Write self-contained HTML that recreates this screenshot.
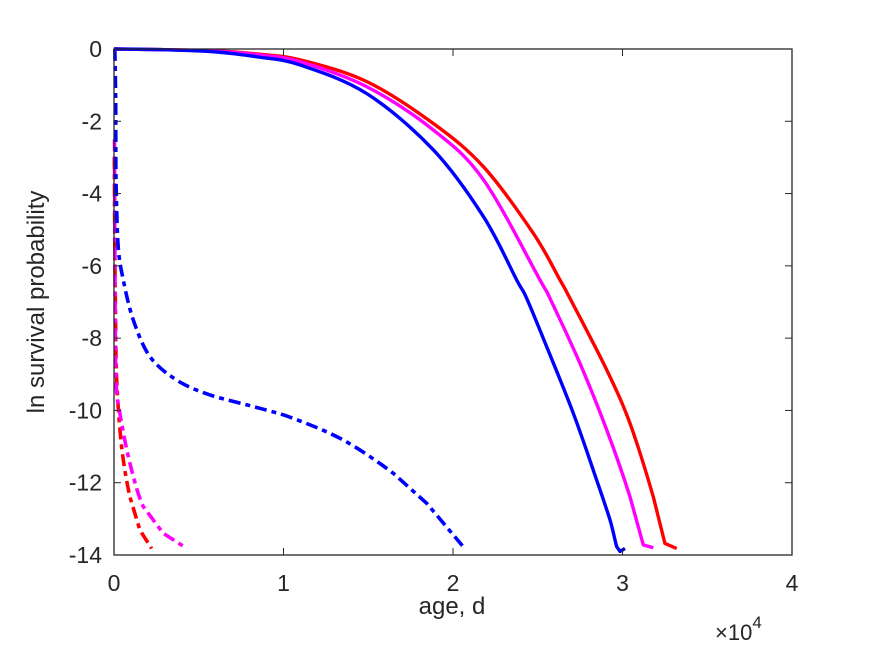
<!DOCTYPE html>
<html><head><meta charset="utf-8"><style>
body{margin:0;background:#fff;}
svg text{font-family:"Liberation Sans",Arial,sans-serif;fill:#262626;}
</style></head><body>
<svg id="chart" width="875" height="656" viewBox="0 0 875 656" xmlns="http://www.w3.org/2000/svg" style="position:absolute;left:0;top:0">
<rect x="0" y="0" width="875" height="656" fill="#fff"/>
<g id="plot"></g>
<g id="axes"></g>
<text x="452" y="614" font-size="24" text-anchor="middle">age, d</text>
<text x="44" y="302" font-size="24" text-anchor="middle" transform="rotate(-90 44 302)">ln survival probability</text>
<text x="715" y="640" font-size="22">×10<tspan dy="-12" font-size="17">4</tspan></text>
</svg>
<script>
const xTicks=[0,1,2,3,4];
const yTicks=[0,-2,-4,-6,-8,-10,-12,-14];
// x in units of 1e4 days, y = ln survival probability
const blueSolidX=[0,0.3,0.6,0.85,1.097,1.49,1.884,2.18,2.376,2.435,2.553,2.71,2.848,2.926,2.966,2.985,3.015];
const blueSolidY=[0,-0.02,-0.08,-0.22,-0.44,-1.23,-2.79,-4.64,-6.39,-6.9,-8.24,-10.08,-11.93,-13.03,-13.77,-13.9,-13.82];
const magSolidX=[0,0.3,0.6,0.85,1.097,1.49,1.884,2.18,2.513,2.572,2.749,2.907,3.044,3.123,3.182];
const magSolidY=[0,-0.02,-0.06,-0.16,-0.35,-1.04,-2.24,-3.62,-6.39,-6.9,-8.7,-10.54,-12.39,-13.72,-13.8];
const redSolidX=[0,0.3,0.6,0.85,1.097,1.49,1.884,2.18,2.474,2.631,2.69,2.907,3.044,3.182,3.25,3.32];
const redSolidY=[0,-0.02,-0.05,-0.14,-0.3,-0.9,-2.06,-3.26,-5.1,-6.39,-6.9,-8.88,-10.36,-12.39,-13.68,-13.82];
const blueDashX=[0.005,0.01,0.012,0.025,0.055,0.114,0.212,0.37,0.566,0.861,1.058,1.353,1.648,1.845,2.06];
const blueDashY=[0,-1.5,-3.62,-5.47,-6.39,-7.5,-8.51,-9.16,-9.57,-9.94,-10.22,-10.82,-11.74,-12.57,-13.77];
const magDashX=[0.003,0.004,0.006,0.012,0.035,0.094,0.173,0.29,0.43];
const magDashY=[-2.5,-4,-6.4,-9.16,-10.08,-11.46,-12.66,-13.4,-13.82];
const redDashX=[0.002,0.004,0.008,0.016,0.045,0.094,0.153,0.222];
const redDashY=[-3,-5,-7,-9.16,-11.0,-12.39,-13.31,-13.82];

const L=114,R=792,T=49,B=555,xMin=0,xMax=4,yMin=-14,yMax=0;
const sx=v=>L+(v-xMin)/(xMax-xMin)*(R-L);
const sy=v=>T+(yMax-v)/(yMax-yMin)*(B-T);
const NS="http://www.w3.org/2000/svg";
const plot=document.getElementById('plot'),axes=document.getElementById('axes');
function mk(tag,attrs,parent){const e=document.createElementNS(NS,tag);for(const k in attrs)e.setAttribute(k,attrs[k]);parent.appendChild(e);return e;}
function smoothPath(xs,ys,smooth){
  const P=xs.map((x,i)=>[sx(x),sy(ys[i])]);
  let d='M'+P[0][0].toFixed(1)+','+P[0][1].toFixed(1);
  for(let i=0;i<P.length-1;i++){
    const p0=P[Math.max(0,i-1)],p1=P[i],p2=P[i+1],p3=P[Math.min(P.length-1,i+2)];
    if(!smooth||i>=P.length-3){d+=' L'+p2[0].toFixed(1)+','+p2[1].toFixed(1);continue;}
    const c1=[p1[0]+(p2[0]-p0[0])/6,p1[1]+(p2[1]-p0[1])/6];
    const c2=[p2[0]-(p3[0]-p1[0])/6,p2[1]-(p3[1]-p1[1])/6];
    d+=' C'+c1[0].toFixed(1)+','+c1[1].toFixed(1)+' '+c2[0].toFixed(1)+','+c2[1].toFixed(1)+' '+p2[0].toFixed(1)+','+p2[1].toFixed(1);
  }
  return d;
}
function line(xs,ys,color,dash,name){
  const p=mk('path',{d:smoothPath(xs,ys,true),fill:'none',stroke:color,'stroke-width':dash?3.6:3.4,'stroke-linejoin':'round'},plot);
  if(dash)p.setAttribute('stroke-dasharray','12 5 5 5');
  
  
}
line(redDashX,redDashY,'#ff0000',true,'red-dashdot-line');
line(magDashX,magDashY,'#ff00ff',true,'magenta-dashdot-line');
line(blueDashX,blueDashY,'#0000ff',true,'blue-dashdot-line');
line(redSolidX,redSolidY,'#ff0000',false,'red-solid-line');
line(magSolidX,magSolidY,'#ff00ff',false,'magenta-solid-line');
line(blueSolidX,blueSolidY,'#0000ff',false,'blue-solid-line');

const box=mk('rect',{x:L,y:T,width:R-L,height:B-T,fill:'none',stroke:'#262626','stroke-width':1.3},axes);


xTicks.forEach(v=>{
  const x=sx(v);
  mk('line',{x1:x,y1:B,x2:x,y2:B-7,stroke:'#262626','stroke-width':1},axes);
  mk('line',{x1:x,y1:T,x2:x,y2:T+7,stroke:'#262626','stroke-width':1},axes);
  const t=mk('text',{x:x,y:591,'font-size':23,'text-anchor':'middle'},axes);
  t.textContent=v;
  
  
});
yTicks.forEach(v=>{
  const y=sy(v);
  mk('line',{x1:L,y1:y,x2:L+7,y2:y,stroke:'#262626','stroke-width':1},axes);
  mk('line',{x1:R,y1:y,x2:R-7,y2:y,stroke:'#262626','stroke-width':1},axes);
  const t=mk('text',{x:102,y:y+8,'font-size':23,'text-anchor':'end'},axes);
  t.textContent=v===0?'0':'-'+Math.abs(v);
  
  
});
</script>
</body></html>
